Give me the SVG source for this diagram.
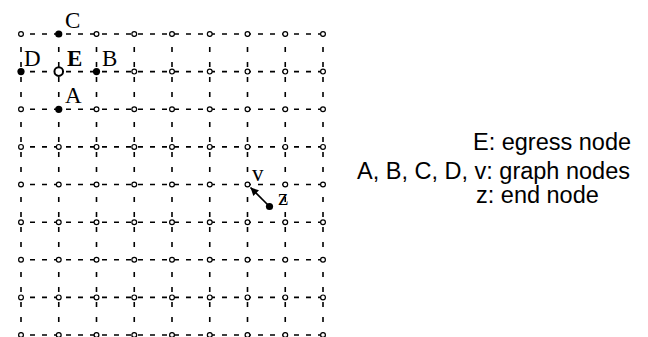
<svg xmlns="http://www.w3.org/2000/svg" xmlns:xlink="http://www.w3.org/1999/xlink" width="648" height="337" viewBox="0 0 648 337">
<style>
.h{stroke:#000;stroke-width:1.6;stroke-dasharray:5 7;stroke-dashoffset:3;fill:none}
.v{stroke:#000;stroke-width:1.6;stroke-dasharray:5 10;stroke-dashoffset:2;fill:none}
.o{fill:#fff;stroke:#000;stroke-width:1.2}
.f{fill:#000}
.lbl{font-family:"Liberation Serif","Times New Roman",serif;font-size:23px;fill:#000}
.leg{font-family:"Liberation Sans",Arial,sans-serif;font-size:23.5px;fill:#000}
</style>
<defs>
<circle id="dot" r="2.4" class="o"/>
<marker id="arr" viewBox="0 0 10 10" refX="10" refY="5" markerWidth="10" markerHeight="8" markerUnits="userSpaceOnUse" orient="auto">
<path d="M0,0 L10,5 L0,10 z" fill="#000"/>
</marker>
</defs>
<rect width="648" height="337" fill="#fff"/>
<g id="connectors">
<line class="h" x1="21" y1="34" x2="323" y2="34"/>
<line class="h" x1="21" y1="71.6" x2="323" y2="71.6"/>
<line class="h" x1="21" y1="109.3" x2="323" y2="109.3"/>
<line class="h" x1="21" y1="146.9" x2="323" y2="146.9"/>
<line class="h" x1="21" y1="184.5" x2="323" y2="184.5"/>
<line class="h" x1="21" y1="222.2" x2="323" y2="222.2"/>
<line class="h" x1="21" y1="259.8" x2="323" y2="259.8"/>
<line class="h" x1="21" y1="297.4" x2="323" y2="297.4"/>
<line class="h" x1="21" y1="335" x2="323" y2="335"/>
<line class="v" x1="21" y1="34" x2="21" y2="337"/>
<line class="v" x1="58.75" y1="34" x2="58.75" y2="337"/>
<line class="v" x1="96.5" y1="34" x2="96.5" y2="337"/>
<line class="v" x1="134.25" y1="34" x2="134.25" y2="337"/>
<line class="v" x1="172" y1="34" x2="172" y2="337"/>
<line class="v" x1="209.75" y1="34" x2="209.75" y2="337"/>
<line class="v" x1="247.5" y1="34" x2="247.5" y2="337"/>
<line class="v" x1="285.25" y1="34" x2="285.25" y2="337"/>
<line class="v" x1="323" y1="34" x2="323" y2="337"/>
<line id="arrow-z-v" x1="269.5" y1="206.5" x2="250.5" y2="187.5" stroke="#000" stroke-width="1.6" marker-end="url(#arr)"/>
</g>
<g id="grid-nodes">
<g id="n0-0"><use xlink:href="#dot" x="21" y="34"/></g>
<g id="n0-2"><use xlink:href="#dot" x="96.5" y="34"/></g>
<g id="n0-3"><use xlink:href="#dot" x="134.25" y="34"/></g>
<g id="n0-4"><use xlink:href="#dot" x="172" y="34"/></g>
<g id="n0-5"><use xlink:href="#dot" x="209.75" y="34"/></g>
<g id="n0-6"><use xlink:href="#dot" x="247.5" y="34"/></g>
<g id="n0-7"><use xlink:href="#dot" x="285.25" y="34"/></g>
<g id="n0-8"><use xlink:href="#dot" x="323" y="34"/></g>
<g id="n1-3"><use xlink:href="#dot" x="134.25" y="71.6"/></g>
<g id="n1-4"><use xlink:href="#dot" x="172" y="71.6"/></g>
<g id="n1-5"><use xlink:href="#dot" x="209.75" y="71.6"/></g>
<g id="n1-6"><use xlink:href="#dot" x="247.5" y="71.6"/></g>
<g id="n1-7"><use xlink:href="#dot" x="285.25" y="71.6"/></g>
<g id="n1-8"><use xlink:href="#dot" x="323" y="71.6"/></g>
<g id="n2-0"><use xlink:href="#dot" x="21" y="109.3"/></g>
<g id="n2-2"><use xlink:href="#dot" x="96.5" y="109.3"/></g>
<g id="n2-3"><use xlink:href="#dot" x="134.25" y="109.3"/></g>
<g id="n2-4"><use xlink:href="#dot" x="172" y="109.3"/></g>
<g id="n2-5"><use xlink:href="#dot" x="209.75" y="109.3"/></g>
<g id="n2-6"><use xlink:href="#dot" x="247.5" y="109.3"/></g>
<g id="n2-7"><use xlink:href="#dot" x="285.25" y="109.3"/></g>
<g id="n2-8"><use xlink:href="#dot" x="323" y="109.3"/></g>
<g id="n3-0"><use xlink:href="#dot" x="21" y="146.9"/></g>
<g id="n3-1"><use xlink:href="#dot" x="58.75" y="146.9"/></g>
<g id="n3-2"><use xlink:href="#dot" x="96.5" y="146.9"/></g>
<g id="n3-3"><use xlink:href="#dot" x="134.25" y="146.9"/></g>
<g id="n3-4"><use xlink:href="#dot" x="172" y="146.9"/></g>
<g id="n3-5"><use xlink:href="#dot" x="209.75" y="146.9"/></g>
<g id="n3-6"><use xlink:href="#dot" x="247.5" y="146.9"/></g>
<g id="n3-7"><use xlink:href="#dot" x="285.25" y="146.9"/></g>
<g id="n3-8"><use xlink:href="#dot" x="323" y="146.9"/></g>
<g id="n4-0"><use xlink:href="#dot" x="21" y="184.5"/></g>
<g id="n4-1"><use xlink:href="#dot" x="58.75" y="184.5"/></g>
<g id="n4-2"><use xlink:href="#dot" x="96.5" y="184.5"/></g>
<g id="n4-3"><use xlink:href="#dot" x="134.25" y="184.5"/></g>
<g id="n4-4"><use xlink:href="#dot" x="172" y="184.5"/></g>
<g id="n4-5"><use xlink:href="#dot" x="209.75" y="184.5"/></g>
<g id="n4-7"><use xlink:href="#dot" x="285.25" y="184.5"/></g>
<g id="n4-8"><use xlink:href="#dot" x="323" y="184.5"/></g>
<g id="n5-0"><use xlink:href="#dot" x="21" y="222.2"/></g>
<g id="n5-1"><use xlink:href="#dot" x="58.75" y="222.2"/></g>
<g id="n5-2"><use xlink:href="#dot" x="96.5" y="222.2"/></g>
<g id="n5-3"><use xlink:href="#dot" x="134.25" y="222.2"/></g>
<g id="n5-4"><use xlink:href="#dot" x="172" y="222.2"/></g>
<g id="n5-5"><use xlink:href="#dot" x="209.75" y="222.2"/></g>
<g id="n5-6"><use xlink:href="#dot" x="247.5" y="222.2"/></g>
<g id="n5-7"><use xlink:href="#dot" x="285.25" y="222.2"/></g>
<g id="n5-8"><use xlink:href="#dot" x="323" y="222.2"/></g>
<g id="n6-0"><use xlink:href="#dot" x="21" y="259.8"/></g>
<g id="n6-1"><use xlink:href="#dot" x="58.75" y="259.8"/></g>
<g id="n6-2"><use xlink:href="#dot" x="96.5" y="259.8"/></g>
<g id="n6-3"><use xlink:href="#dot" x="134.25" y="259.8"/></g>
<g id="n6-4"><use xlink:href="#dot" x="172" y="259.8"/></g>
<g id="n6-5"><use xlink:href="#dot" x="209.75" y="259.8"/></g>
<g id="n6-6"><use xlink:href="#dot" x="247.5" y="259.8"/></g>
<g id="n6-7"><use xlink:href="#dot" x="285.25" y="259.8"/></g>
<g id="n6-8"><use xlink:href="#dot" x="323" y="259.8"/></g>
<g id="n7-0"><use xlink:href="#dot" x="21" y="297.4"/></g>
<g id="n7-1"><use xlink:href="#dot" x="58.75" y="297.4"/></g>
<g id="n7-2"><use xlink:href="#dot" x="96.5" y="297.4"/></g>
<g id="n7-3"><use xlink:href="#dot" x="134.25" y="297.4"/></g>
<g id="n7-4"><use xlink:href="#dot" x="172" y="297.4"/></g>
<g id="n7-5"><use xlink:href="#dot" x="209.75" y="297.4"/></g>
<g id="n7-6"><use xlink:href="#dot" x="247.5" y="297.4"/></g>
<g id="n7-7"><use xlink:href="#dot" x="285.25" y="297.4"/></g>
<g id="n7-8"><use xlink:href="#dot" x="323" y="297.4"/></g>
<g id="n8-0"><use xlink:href="#dot" x="21" y="335"/></g>
<g id="n8-1"><use xlink:href="#dot" x="58.75" y="335"/></g>
<g id="n8-2"><use xlink:href="#dot" x="96.5" y="335"/></g>
<g id="n8-3"><use xlink:href="#dot" x="134.25" y="335"/></g>
<g id="n8-4"><use xlink:href="#dot" x="172" y="335"/></g>
<g id="n8-5"><use xlink:href="#dot" x="209.75" y="335"/></g>
<g id="n8-6"><use xlink:href="#dot" x="247.5" y="335"/></g>
<g id="n8-7"><use xlink:href="#dot" x="285.25" y="335"/></g>
<g id="n8-8"><use xlink:href="#dot" x="323" y="335"/></g>
</g>
<g id="node-C"><circle class="f" cx="58.75" cy="34" r="3.6"/><text class="lbl" x="65" y="28">C</text></g>
<g id="node-D"><circle class="f" cx="21" cy="71.6" r="3.6"/><text class="lbl" x="24" y="66">D</text></g>
<g id="node-E"><circle cx="58.75" cy="71.6" r="4.3" fill="#fff" stroke="#000" stroke-width="2"/><text class="lbl" x="67" y="66" font-weight="bold">E</text></g>
<g id="node-B"><circle class="f" cx="96.5" cy="71.6" r="3.6"/><text class="lbl" x="102" y="66">B</text></g>
<g id="node-A"><circle class="f" cx="58.75" cy="109.3" r="3.6"/><text class="lbl" x="65" y="103">A</text></g>
<g id="node-v"><use xlink:href="#dot" x="247.5" y="184.5"/><text class="lbl" x="252" y="181">v</text></g>
<g id="node-z"><circle class="f" cx="269.5" cy="206.5" r="3.6"/><text class="lbl" x="278" y="205">z</text></g>
<g id="legend">
<text class="leg" x="473" y="150">E: egress node</text>
<text class="leg" x="357" y="179">A, B, C, D, v: graph nodes</text>
<text class="leg" x="476" y="203">z: end node</text>
</g>
</svg>
